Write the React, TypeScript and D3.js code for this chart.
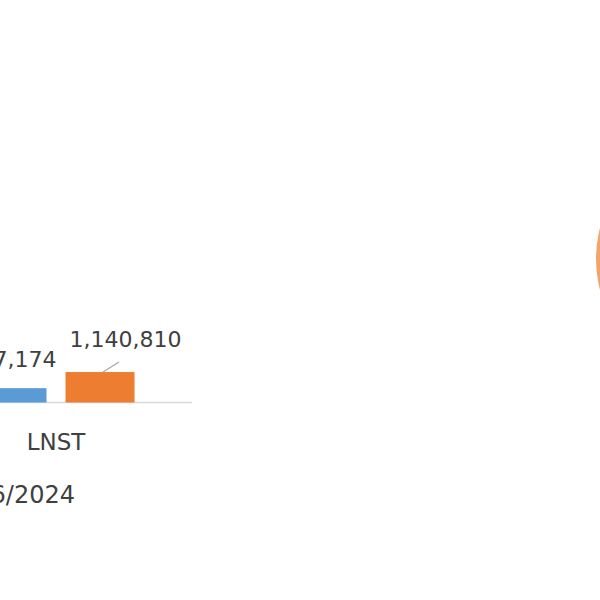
import React from "react";
import * as d3 from "d3";

const categories = ["LNST"];
const series = ["2023", "2024"];
const seriesColors = ["#5B9BD5", "#ED7D31"];
const values = [[537174, 1140810]];
const dateLabel = "30/6/2024";

const W = 600;
const H = 600;

export default function App() {
  const x0 = d3.scaleBand<string>().domain(categories).range([-80, 192]);
  const x1 = d3
    .scaleBand<string>()
    .domain(series)
    .range([0, x0.bandwidth()])
    .paddingInner(0.216)
    .paddingOuter(0.653);
  const y = d3.scaleLinear().domain([0, 10000000]).range([402.5, 135.5]);
  const fmt = d3.format(",");
  const base = y(0);

  return (
    <svg
      width={W}
      height={H}
      style={{ position: "absolute", left: 0, top: 0, background: "#fff" }}
      fontFamily="'DejaVu Sans', sans-serif"
    >
      {/* pie fragment at right edge */}
      <circle cx={718} cy={259} r={122} fill="#F0A46E" />
      <line x1={-10} x2={192} y1={base} y2={base} stroke="#D9D9D9" strokeWidth={1.5} />
      {categories.map((c, ci) => (
        <g key={c} transform={`translate(${x0(c)},0)`}>
          {series.map((s, si) => {
            const v = values[ci][si];
            const bx = x1(s)!;
            const bw = x1.bandwidth();
            const top = y(v);
            const cx = bx + bw / 2;
            const displaced = si === 1;
            const lx = displaced ? cx + 25.5 : cx - 1;
            const ly = displaced ? top - 25 : top - 21;
            return (
              <g key={s}>
                <rect x={bx} y={top} width={bw} height={base - top} fill={seriesColors[si]} />
                {displaced && (
                  <line x1={cx + 3} y1={top} x2={cx + 19} y2={top - 10} stroke="#A6A6A6" strokeWidth={1.2} />
                )}
                <text x={lx} y={ly} textAnchor="middle" fontSize={22} fill="#404040">
                  {fmt(v)}
                </text>
              </g>
            );
          })}
          <text x={x0.bandwidth() / 2} y={450} textAnchor="middle" fontSize={23} fill="#404040">
            {c}
          </text>
        </g>
      ))}
      <text x={75} y={503} textAnchor="end" fontSize={24} fill="#404040">
        {dateLabel}
      </text>
    </svg>
  );
}
